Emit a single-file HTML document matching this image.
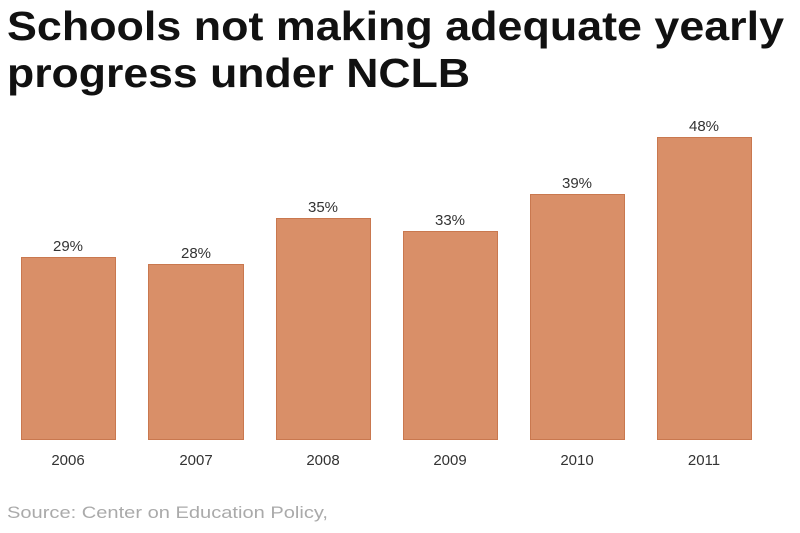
<!DOCTYPE html>
<html><head><meta charset="utf-8"><style>
html,body{margin:0;padding:0;background:#fff;width:800px;height:533px;overflow:hidden}
</style></head><body>
<svg width="800" height="533" xmlns="http://www.w3.org/2000/svg" font-family="Liberation Sans, sans-serif">
<text x="7" y="40" font-size="41" font-weight="bold" fill="#111" textLength="777" lengthAdjust="spacingAndGlyphs">Schools not making adequate yearly</text>
<text x="7" y="87" font-size="41" font-weight="bold" fill="#111" textLength="463" lengthAdjust="spacingAndGlyphs">progress under NCLB</text>
<g fill="#d98f68" stroke="#c9784f" stroke-width="1">
<rect x="21.5" y="257.5" width="94" height="182"/>
<rect x="148.5" y="264.5" width="95" height="175"/>
<rect x="276.5" y="218.5" width="94" height="221"/>
<rect x="403.5" y="231.5" width="94" height="208"/>
<rect x="530.5" y="194.5" width="94" height="245"/>
<rect x="657.5" y="137.5" width="94" height="302"/>
</g>
<g font-size="15" fill="#333" text-anchor="middle">
<text x="68" y="251">29%</text>
<text x="196" y="258">28%</text>
<text x="323" y="212">35%</text>
<text x="450" y="225">33%</text>
<text x="577" y="188">39%</text>
<text x="704" y="131">48%</text>
<text x="68" y="465">2006</text>
<text x="196" y="465">2007</text>
<text x="323" y="465">2008</text>
<text x="450" y="465">2009</text>
<text x="577" y="465">2010</text>
<text x="704" y="465">2011</text>
</g>
<text x="7" y="518" font-size="17" fill="#aaa" textLength="321" lengthAdjust="spacingAndGlyphs">Source: Center on Education Policy,</text>
</svg>
</body></html>
